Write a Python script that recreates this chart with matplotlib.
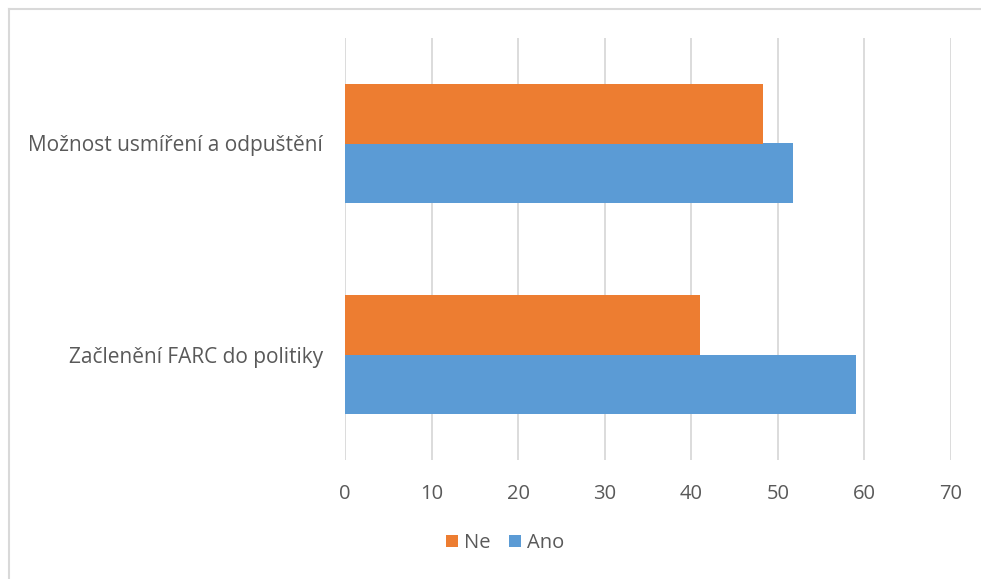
import numpy as np
import matplotlib.pyplot as plt
from matplotlib.lines import Line2D

categories = ['Začlenění FARC do politiky', 'Možnost usmíření a odpuštění']
ano_values = [59.0, 51.7]
ne_values = [41.0, 48.3]
x_ticks = [0, 10, 20, 30, 40, 50, 60, 70]

ORANGE = '#ED7D31'
BLUE = '#5B9BD5'
TEXT = '#595959'
GRID = '#D9D9D9'

plt.rcParams['font.family'] = ['Open Sans', 'DejaVu Sans']

W, H = 981, 579
fig = plt.figure(figsize=(W / 100, H / 100), dpi=100)

# chart frame: only top and left edges are visible in the crop
fig.lines.append(Line2D([8.5 / W, 1], [1 - 8.5 / H, 1 - 8.5 / H],
                        transform=fig.transFigure, color=GRID, linewidth=1.5))
fig.lines.append(Line2D([8.5 / W, 8.5 / W], [0, 1 - 8.5 / H],
                        transform=fig.transFigure, color=GRID, linewidth=1.5))

ax = fig.add_axes([345 / W, 119 / H, 606 / W, 422 / H])

y = np.arange(len(categories))
h = 0.284
ax.barh(y - h / 2, ano_values, height=h, color=BLUE, label='Ano', zorder=3)
ax.barh(y + h / 2, ne_values, height=h, color=ORANGE, label='Ne', zorder=3)

ax.set_xlim(0, 70)
ax.set_ylim(-0.5, 1.5)
ax.set_xticks(x_ticks)
ax.set_yticks(y)
ax.set_yticklabels(categories, fontsize=15, color=TEXT)
ax.tick_params(axis='x', labelsize=14.5, colors=TEXT, length=0, pad=17)
ax.tick_params(axis='y', length=0, pad=16)
ax.grid(axis='x', color=GRID, linewidth=1.3, zorder=0)
for s in ax.spines.values():
    s.set_visible(False)

handles, labels = ax.get_legend_handles_labels()
order = [1, 0]
leg = fig.legend([handles[i] for i in order], [labels[i] for i in order],
                 loc='center', bbox_to_anchor=(505 / W, 1 - 543 / H),
                 ncol=2, frameon=False, fontsize=14.5, handlelength=0.6,
                 handleheight=0.6, handletextpad=0.3, columnspacing=0.9)
for t in leg.get_texts():
    t.set_color(TEXT)

fig.savefig('out.png', dpi=100)
